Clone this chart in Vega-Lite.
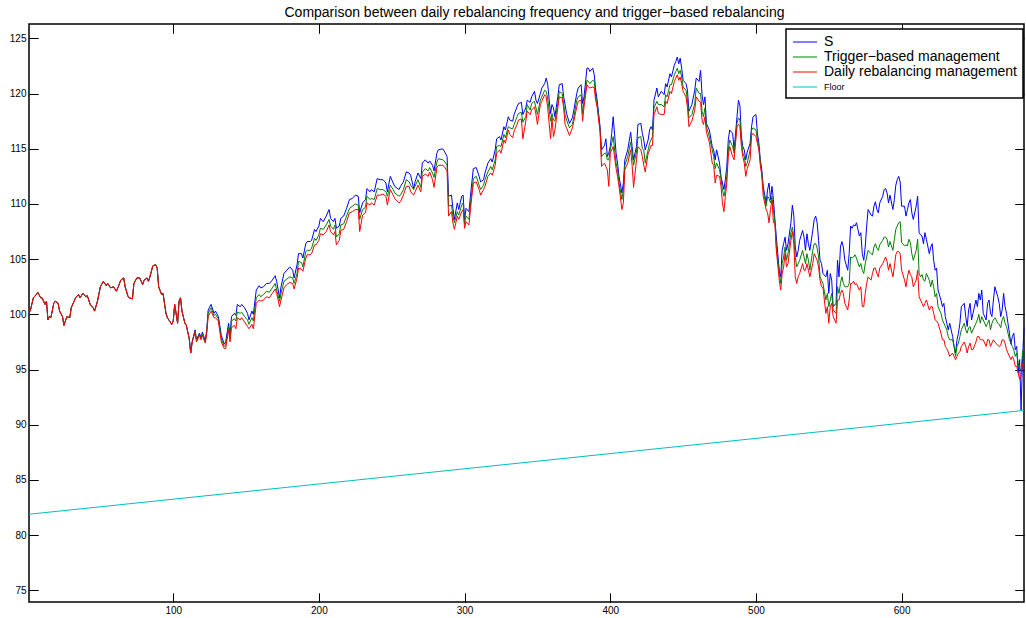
{
  "$schema": "https://vega.github.io/schema/vega-lite/v6.json",
  "width": 995,
  "height": 578,
  "autosize": {"type": "none"},
  "padding": {"left": 29, "top": 24, "right": 2, "bottom": 16},
  "background": "white",
  "title": {"text": "Comparison between daily rebalancing frequency and trigger−based rebalancing", "font": "Liberation Sans", "fontSize": 14, "fontWeight": "normal", "color": "black", "offset": 4, "dx": 8},
  "config": {
    "view": {"stroke": "black", "strokeWidth": 1.5},
    "axis": {"grid": false, "domain": false, "zindex": 2, "labelFont": "Liberation Sans", "labelFontSize": 10, "labelColor": "black", "title": null}
  },
  "datasets": {
    "m": [
      {"d":1,"S":100.1,"T":100.1,"D":100.1},{"d":2,"S":100.4,"T":100.4,"D":100.4},{"d":4,"S":101.5,"T":101.5,"D":101.5},{"d":6,"S":101.8,"T":101.8,"D":101.8},{"d":7,"S":102.0,"T":102.0,"D":102.0},{"d":9,"S":101.5,"T":101.5,"D":101.5},{"d":10,"S":101.5,"T":101.5,"D":101.5},{"d":12,"S":100.9,"T":100.9,"D":100.9},{"d":13,"S":101.2,"T":101.2,"D":101.2},{"d":14,"S":99.5,"T":99.5,"D":99.5},{"d":15,"S":99.8,"T":99.8,"D":99.8},{"d":16,"S":99.7,"T":99.7,"D":99.7},{"d":18,"S":101.0,"T":101.0,"D":101.0},{"d":19,"S":101.2,"T":101.2,"D":101.2},{"d":21,"S":101.0,"T":101.0,"D":101.0},{"d":22,"S":100.3,"T":100.3,"D":100.3},{"d":24,"S":99.8,"T":99.8,"D":99.8},{"d":25,"S":99.0,"T":99.0,"D":99.0},{"d":27,"S":99.8,"T":99.8,"D":99.8},{"d":29,"S":99.7,"T":99.7,"D":99.7},{"d":30,"S":100.6,"T":100.6,"D":100.6},{"d":32,"S":101.2,"T":101.2,"D":101.2},{"d":33,"S":101.5,"T":101.5,"D":101.5},{"d":35,"S":101.8,"T":101.8,"D":101.8},{"d":36,"S":101.5,"T":101.5,"D":101.5},{"d":38,"S":101.9,"T":101.9,"D":101.9},{"d":40,"S":101.6,"T":101.6,"D":101.6},{"d":41,"S":101.7,"T":101.7,"D":101.7},{"d":43,"S":100.9,"T":100.9,"D":100.9},{"d":45,"S":100.6,"T":100.6,"D":100.6},{"d":46,"S":100.3,"T":100.3,"D":100.3},{"d":48,"S":101.2,"T":101.2,"D":101.2},{"d":50,"S":102.5,"T":102.5,"D":102.5},{"d":52,"S":103.0,"T":103.0,"D":103.0},{"d":54,"S":102.6,"T":102.6,"D":102.6},{"d":55,"S":102.8,"T":102.8,"D":102.8},{"d":57,"S":102.4,"T":102.4,"D":102.4},{"d":59,"S":102.5,"T":102.5,"D":102.5},{"d":61,"S":102.1,"T":102.1,"D":102.1},{"d":62,"S":102.4,"T":102.4,"D":102.4},{"d":64,"S":103.1,"T":103.1,"D":103.1},{"d":66,"S":103.3,"T":103.3,"D":103.3},{"d":67,"S":102.5,"T":102.5,"D":102.5},{"d":69,"S":101.6,"T":101.6,"D":101.6},{"d":70,"S":101.5,"T":101.5,"D":101.5},{"d":72,"S":101.4,"T":101.4,"D":101.4},{"d":73,"S":102.8,"T":102.8,"D":102.8},{"d":75,"S":103.3,"T":103.3,"D":103.3},{"d":77,"S":103.3,"T":103.3,"D":103.3},{"d":79,"S":102.7,"T":102.7,"D":102.7},{"d":80,"S":103.1,"T":103.1,"D":103.1},{"d":82,"S":103.3,"T":103.3,"D":103.3},{"d":83,"S":103.0,"T":103.0,"D":103.0},{"d":84,"S":103.4,"T":103.4,"D":103.4},{"d":86,"S":104.4,"T":104.4,"D":104.4},{"d":88,"S":104.5,"T":104.5,"D":104.5},{"d":89,"S":104.2,"T":104.2,"D":104.2},{"d":90,"S":102.5,"T":102.5,"D":102.5},{"d":92,"S":101.8,"T":101.8,"D":101.8},{"d":93,"S":101.9,"T":101.9,"D":101.9},{"d":95,"S":100.1,"T":100.1,"D":100.1},{"d":96,"S":99.7,"T":99.7,"D":99.7},{"d":97,"S":99.5,"T":99.5,"D":99.5},{"d":99,"S":99.1,"T":99.1,"D":99.1},{"d":100,"S":99.4,"T":99.4,"D":99.4},{"d":101,"S":100.9,"T":100.9,"D":100.9},{"d":103,"S":99.2,"T":99.2,"D":99.2},{"d":104,"S":101.2,"T":101.2,"D":101.2},{"d":105,"S":101.5,"T":101.5,"D":101.5},{"d":106,"S":100.3,"T":100.3,"D":100.3},{"d":108,"S":99.2,"T":99.2,"D":99.2},{"d":109,"S":99.0,"T":99.0,"D":99.0},{"d":111,"S":97.8,"T":97.8,"D":97.8},{"d":112,"S":96.5,"T":96.5,"D":96.5},{"d":113,"S":97.5,"T":97.5,"D":97.5},
      {"d":115,"S":98.6,"T":98.5,"D":98.4},{"d":116,"S":97.7,"T":97.6,"D":97.5},{"d":118,"S":98.3,"T":98.2,"D":98.1},{"d":119,"S":97.9,"T":97.8,"D":97.7},{"d":120,"S":98.4,"T":98.3,"D":98.1},{"d":122,"S":97.6,"T":97.5,"D":97.4},{"d":123,"S":98.6,"T":98.4,"D":98.3},{"d":124,"S":100.4,"T":100.1,"D":99.8},{"d":126,"S":100.9,"T":100.6,"D":100.3},{"d":128,"S":100.1,"T":99.9,"D":99.7},{"d":129,"S":100.3,"T":100.0,"D":99.7},{"d":131,"S":99.8,"T":99.6,"D":99.4},{"d":133,"S":98.1,"T":97.8,"D":97.5},{"d":135,"S":97.3,"T":97.1,"D":96.9},{"d":136,"S":97.5,"T":97.2,"D":96.9},{"d":138,"S":99.2,"T":98.9,"D":98.6},{"d":139,"S":98.1,"T":97.8,"D":97.5},
      {"d":140,"S":99.8,"T":99.4,"D":98.8},{"d":142,"S":100.1,"T":99.6,"D":99.0},{"d":143,"S":99.9,"T":99.4,"D":98.7},{"d":144,"S":100.9,"T":100.2,"D":99.7},{"d":146,"S":100.7,"T":100.1,"D":99.5},{"d":147,"S":100.9,"T":100.2,"D":99.7},{"d":149,"S":100.6,"T":99.8,"D":99.3},{"d":151,"S":100.1,"T":99.5,"D":98.9},{"d":152,"S":99.5,"T":99.1,"D":98.7},{"d":154,"S":100.3,"T":99.7,"D":99.1},{"d":155,"S":100.0,"T":99.4,"D":98.7},{"d":157,"S":102.2,"T":101.5,"D":101.0},{"d":159,"S":102.6,"T":101.8,"D":101.3},{"d":160,"S":102.4,"T":101.6,"D":101.2},{"d":162,"S":102.5,"T":101.8,"D":101.3},{"d":164,"S":102.8,"T":102.1,"D":101.6},{"d":166,"S":102.8,"T":102.0,"D":101.5},{"d":168,"S":103.1,"T":102.4,"D":101.9},{"d":170,"S":103.5,"T":102.8,"D":102.3},{"d":171,"S":103.0,"T":102.2,"D":101.9},{"d":173,"S":101.5,"T":101.2,"D":100.7},{"d":174,"S":102.5,"T":101.9,"D":101.3},{"d":176,"S":103.7,"T":103.0,"D":102.4},{"d":178,"S":104.0,"T":103.2,"D":102.7},{"d":180,"S":104.3,"T":103.4,"D":102.9},{"d":182,"S":104.0,"T":103.3,"D":102.8},{"d":183,"S":103.3,"T":102.8,"D":102.3},{"d":185,"S":104.5,"T":103.7,"D":103.3},{"d":186,"S":105.5,"T":104.8,"D":104.2},{"d":188,"S":105.5,"T":104.7,"D":104.1},{"d":189,"S":105.1,"T":104.3,"D":103.9},{"d":191,"S":106.4,"T":105.7,"D":105.1},{"d":192,"S":106.6,"T":105.8,"D":105.4},{"d":194,"S":106.6,"T":105.8,"D":105.4},{"d":195,"S":106.7,"T":106.0,"D":105.5},{"d":197,"S":107.7,"T":106.9,"D":106.3},{"d":198,"S":107.5,"T":106.7,"D":106.3},{"d":200,"S":108.0,"T":107.2,"D":106.7},{"d":201,"S":108.7,"T":107.8,"D":107.3},{"d":203,"S":108.4,"T":107.7,"D":107.2},{"d":205,"S":108.9,"T":108.1,"D":107.5},{"d":207,"S":109.5,"T":108.6,"D":108.1},{"d":208,"S":108.7,"T":108.0,"D":107.5},{"d":210,"S":108.4,"T":107.7,"D":107.2},{"d":211,"S":108.7,"T":108.1,"D":107.5},{"d":212,"S":107.8,"T":107.0,"D":106.3},{"d":214,"S":108.0,"T":107.3,"D":106.7},{"d":215,"S":108.7,"T":108.1,"D":107.6},{"d":217,"S":108.9,"T":108.2,"D":107.7},{"d":219,"S":109.6,"T":108.9,"D":108.4},{"d":221,"S":110.4,"T":109.6,"D":109.2},{"d":223,"S":110.5,"T":109.8,"D":109.3},{"d":225,"S":110.8,"T":110.0,"D":109.5},{"d":227,"S":110.7,"T":109.9,"D":109.5},{"d":228,"S":109.2,"T":108.6,"D":107.5},{"d":230,"S":110.1,"T":109.5,"D":109.0},{"d":232,"S":110.4,"T":109.7,"D":109.2},{"d":233,"S":111.4,"T":110.7,"D":110.1},{"d":235,"S":111.1,"T":110.4,"D":109.9},{"d":236,"S":111.3,"T":110.5,"D":110.1},{"d":238,"S":111.1,"T":110.4,"D":109.9},{"d":240,"S":112.3,"T":111.4,"D":110.8},{"d":242,"S":112.2,"T":111.3,"D":110.8},{"d":244,"S":112.2,"T":111.3,"D":110.9},{"d":246,"S":111.9,"T":111.1,"D":110.7},{"d":247,"S":111.1,"T":110.7,"D":109.9},{"d":249,"S":112.5,"T":111.7,"D":111.3},{"d":251,"S":111.9,"T":111.3,"D":110.8},{"d":252,"S":111.6,"T":111.0,"D":110.5},{"d":255,"S":111.3,"T":110.7,"D":110.1},{"d":256,"S":111.6,"T":110.8,"D":110.2},{"d":258,"S":112.0,"T":111.3,"D":110.8},{"d":260,"S":112.9,"T":112.2,"D":111.6},{"d":262,"S":112.8,"T":112.0,"D":111.6},{"d":263,"S":112.6,"T":111.7,"D":111.1},{"d":265,"S":111.4,"T":111.3,"D":110.8},{"d":266,"S":112.0,"T":111.6,"D":111.1},{"d":268,"S":112.8,"T":112.2,"D":111.7},{"d":270,"S":112.3,"T":111.5,"D":111.1},{"d":271,"S":113.7,"T":112.9,"D":112.5},{"d":273,"S":114.0,"T":113.2,"D":112.7},{"d":275,"S":113.7,"T":113.0,"D":112.5},{"d":276,"S":113.9,"T":113.3,"D":112.9},{"d":278,"S":113.5,"T":112.8,"D":112.2},{"d":279,"S":113.0,"T":112.4,"D":111.5},{"d":281,"S":114.6,"T":113.8,"D":113.3},{"d":282,"S":114.9,"T":114.1,"D":113.5},{"d":285,"S":115.0,"T":114.0,"D":113.5},{"d":286,"S":114.8,"T":113.9,"D":113.4},{"d":288,"S":114.3,"T":113.5,"D":113.0},{"d":289,"S":110.7,"T":109.8,"D":108.9},{"d":291,"S":110.8,"T":109.9,"D":109.3},{"d":292,"S":109.6,"T":108.9,"D":108.3},{"d":293,"S":108.6,"T":108.3,"D":107.7},{"d":295,"S":110.1,"T":109.3,"D":108.9},{"d":296,"S":109.5,"T":109.0,"D":108.6},{"d":298,"S":110.7,"T":109.9,"D":109.3},{"d":299,"S":110.8,"T":110.1,"D":109.5},{"d":300,"S":108.6,"T":108.2,"D":107.8},{"d":301,"S":109.6,"T":108.9,"D":108.4},{"d":303,"S":109.3,"T":108.6,"D":108.1},{"d":304,"S":110.7,"T":109.9,"D":109.5},{"d":306,"S":113.2,"T":112.3,"D":111.9},{"d":308,"S":113.3,"T":112.5,"D":112.0},{"d":310,"S":112.5,"T":111.7,"D":111.3},{"d":311,"S":112.0,"T":111.3,"D":110.8},{"d":313,"S":112.2,"T":111.7,"D":111.3},{"d":314,"S":112.8,"T":112.2,"D":111.6},{"d":316,"S":113.7,"T":112.9,"D":112.5},{"d":318,"S":114.1,"T":113.4,"D":112.8},{"d":319,"S":113.8,"T":113.1,"D":112.6},{"d":321,"S":114.9,"T":114.0,"D":113.5},{"d":322,"S":115.9,"T":115.2,"D":114.6},{"d":324,"S":116.1,"T":115.3,"D":114.9},{"d":325,"S":115.8,"T":115.2,"D":114.6},{"d":327,"S":117.0,"T":116.3,"D":115.8},{"d":328,"S":116.7,"T":116.0,"D":115.5},{"d":330,"S":117.9,"T":117.0,"D":116.7},{"d":331,"S":117.6,"T":116.9,"D":116.3},{"d":333,"S":117.5,"T":116.8,"D":116.0},{"d":334,"S":118.1,"T":117.2,"D":116.6},{"d":336,"S":118.8,"T":117.9,"D":117.2},{"d":337,"S":119.1,"T":118.2,"D":117.6},{"d":339,"S":119.2,"T":118.3,"D":117.7},{"d":340,"S":118.1,"T":117.4,"D":115.9},{"d":342,"S":118.7,"T":117.9,"D":117.5},{"d":343,"S":119.4,"T":119.0,"D":118.4},{"d":345,"S":119.2,"T":118.5,"D":118.1},{"d":346,"S":119.7,"T":119.1,"D":118.5},{"d":348,"S":120.2,"T":119.3,"D":118.8},{"d":349,"S":119.4,"T":118.7,"D":118.1},{"d":350,"S":119.1,"T":118.1,"D":117.2},{"d":352,"S":120.0,"T":119.4,"D":119.0},{"d":353,"S":120.5,"T":119.7,"D":119.3},{"d":355,"S":120.9,"T":120.3,"D":119.9},{"d":356,"S":121.4,"T":120.2,"D":119.7},{"d":357,"S":120.9,"T":119.6,"D":118.8},{"d":359,"S":118.2,"T":117.5,"D":115.9},{"d":360,"S":119.0,"T":118.2,"D":117.8},{"d":361,"S":118.7,"T":117.6,"D":116.1},{"d":362,"S":117.9,"T":117.5,"D":116.7},{"d":364,"S":119.7,"T":119.1,"D":118.7},{"d":365,"S":120.8,"T":120.2,"D":119.7},{"d":367,"S":120.9,"T":120.0,"D":119.6},{"d":368,"S":119.7,"T":119.1,"D":118.7},{"d":369,"S":119.0,"T":118.1,"D":117.2},{"d":370,"S":118.2,"T":117.6,"D":116.9},{"d":372,"S":117.3,"T":116.9,"D":116.2},{"d":374,"S":117.8,"T":117.2,"D":116.9},{"d":375,"S":118.5,"T":117.9,"D":117.5},{"d":377,"S":120.0,"T":119.4,"D":118.8},{"d":378,"S":120.5,"T":119.7,"D":119.3},{"d":380,"S":120.8,"T":119.9,"D":119.4},{"d":381,"S":119.1,"T":118.2,"D":117.5},{"d":382,"S":119.7,"T":119.3,"D":118.8},{"d":384,"S":122.3,"T":121.2,"D":120.8},{"d":385,"S":122.3,"T":121.1,"D":120.6},{"d":386,"S":122.0,"T":120.9,"D":120.5},{"d":388,"S":122.3,"T":121.2,"D":120.6},{"d":389,"S":121.7,"T":121.1,"D":120.5},{"d":390,"S":120.3,"T":119.7,"D":119.4},{"d":391,"S":119.4,"T":119.0,"D":118.8},{"d":392,"S":118.2,"T":117.9,"D":117.6},{"d":393,"S":117.0,"T":116.7,"D":116.6},{"d":394,"S":114.9,"T":114.3,"D":113.4},{"d":396,"S":115.3,"T":114.6,"D":113.7},{"d":397,"S":115.9,"T":114.6,"D":113.4},{"d":398,"S":114.3,"T":114.0,"D":113.1},{"d":399,"S":114.6,"T":114.0,"D":111.6},{"d":400,"S":115.2,"T":114.9,"D":114.6},{"d":401,"S":116.4,"T":115.5,"D":114.9},{"d":402,"S":117.9,"T":116.1,"D":115.2},{"d":404,"S":114.6,"T":113.7,"D":113.2},{"d":405,"S":113.7,"T":113.1,"D":112.5},{"d":406,"S":112.5,"T":111.9,"D":111.6},{"d":408,"S":111.0,"T":110.4,"D":109.5},{"d":409,"S":111.9,"T":111.3,"D":110.1},{"d":410,"S":114.0,"T":113.5,"D":113.1},{"d":412,"S":114.9,"T":114.3,"D":113.7},{"d":414,"S":116.5,"T":115.6,"D":114.9},{"d":415,"S":115.2,"T":114.6,"D":113.5},{"d":416,"S":114.0,"T":113.5,"D":111.5},{"d":418,"S":115.2,"T":114.7,"D":114.0},{"d":419,"S":117.2,"T":116.0,"D":115.2},{"d":421,"S":117.3,"T":116.1,"D":114.9},{"d":422,"S":116.4,"T":115.0,"D":114.3},{"d":423,"S":115.8,"T":114.9,"D":113.5},{"d":424,"S":114.9,"T":113.7,"D":112.9},{"d":426,"S":115.8,"T":114.9,"D":114.6},{"d":427,"S":116.7,"T":115.5,"D":114.9},{"d":428,"S":117.0,"T":115.8,"D":115.3},{"d":429,"S":116.7,"T":116.1,"D":115.3},{"d":430,"S":119.4,"T":118.7,"D":118.1},{"d":432,"S":120.5,"T":119.3,"D":118.8},{"d":433,"S":119.7,"T":119.0,"D":118.2},{"d":435,"S":120.2,"T":119.0,"D":118.1},{"d":437,"S":119.9,"T":118.8,"D":118.1},{"d":438,"S":120.9,"T":119.9,"D":119.3},{"d":439,"S":120.6,"T":119.7,"D":119.1},{"d":441,"S":121.8,"T":120.8,"D":120.2},{"d":442,"S":121.5,"T":120.8,"D":120.0},{"d":444,"S":122.6,"T":121.7,"D":121.1},{"d":445,"S":122.9,"T":122.0,"D":121.4},{"d":446,"S":123.3,"T":122.3,"D":121.7},{"d":447,"S":122.7,"T":121.8,"D":121.2},{"d":448,"S":123.2,"T":122.1,"D":121.5},{"d":449,"S":122.3,"T":121.5,"D":120.9},{"d":450,"S":121.2,"T":120.6,"D":120.2},{"d":452,"S":120.9,"T":120.3,"D":119.7},{"d":453,"S":120.3,"T":119.4,"D":118.7},{"d":454,"S":118.4,"T":117.8,"D":117.0},{"d":456,"S":119.0,"T":118.1,"D":117.5},{"d":458,"S":120.3,"T":119.1,"D":118.5},{"d":459,"S":121.4,"T":120.5,"D":119.7},{"d":461,"S":121.1,"T":120.0,"D":119.3},{"d":462,"S":122.1,"T":120.0,"D":119.2},{"d":463,"S":119.9,"T":118.4,"D":117.6},{"d":464,"S":119.0,"T":117.9,"D":117.2},{"d":465,"S":119.7,"T":118.7,"D":117.9},{"d":466,"S":117.3,"T":117.0,"D":116.5},{"d":468,"S":116.7,"T":116.1,"D":115.6},{"d":470,"S":115.2,"T":114.9,"D":113.7},{"d":471,"S":114.9,"T":114.3,"D":113.5},{"d":472,"S":114.0,"T":113.2,"D":111.9},{"d":473,"S":114.9,"T":113.7,"D":112.6},{"d":475,"S":113.7,"T":113.1,"D":112.5},{"d":476,"S":112.5,"T":112.3,"D":111.6},{"d":477,"S":111.9,"T":111.3,"D":110.1},{"d":478,"S":111.3,"T":110.7,"D":109.3},{"d":479,"S":112.2,"T":111.3,"D":110.7},{"d":480,"S":113.4,"T":112.5,"D":111.9},{"d":481,"S":115.8,"T":114.9,"D":114.3},{"d":482,"S":116.7,"T":115.8,"D":115.2},{"d":484,"S":116.4,"T":115.2,"D":114.3},{"d":485,"S":114.9,"T":114.6,"D":114.0},{"d":487,"S":117.9,"T":117.3,"D":117.0},{"d":488,"S":119.4,"T":117.8,"D":117.2},{"d":489,"S":118.9,"T":117.6,"D":117.0},{"d":490,"S":116.1,"T":115.8,"D":115.2},{"d":491,"S":115.2,"T":114.6,"D":114.3},{"d":492,"S":114.9,"T":114.3,"D":113.7},{"d":493,"S":114.0,"T":113.4,"D":112.5},{"d":494,"S":114.7,"T":113.7,"D":113.2},{"d":496,"S":115.5,"T":114.9,"D":114.0},{"d":497,"S":117.0,"T":116.7,"D":116.2},{"d":498,"S":117.9,"T":116.9,"D":116.4},{"d":500,"S":118.1,"T":116.7,"D":116.1},{"d":501,"S":116.4,"T":115.8,"D":115.5},{"d":502,"S":115.5,"T":115.2,"D":114.9},{"d":503,"S":114.0,"T":113.8,"D":113.5},{"d":504,"S":113.1,"T":112.8,"D":112.6},{"d":505,"S":111.6,"T":111.3,"D":110.7},{"d":507,"S":110.1,"T":109.8,"D":109.5},{"d":508,"S":111.3,"T":110.7,"D":109.2},{"d":509,"S":111.9,"T":110.5,"D":108.3},{"d":510,"S":110.4,"T":110.1,"D":109.5},{"d":511,"S":111.6,"T":110.7,"D":110.4},{"d":512,"S":110.4,"T":109.5,"D":108.3},{"d":513,"S":108.6,"T":108.4,"D":108.3},{"d":514,"S":107.0,"T":106.1,"D":105.8},{"d":516,"S":104.0,"T":103.7,"D":103.1},{"d":517,"S":103.4,"T":102.8,"D":102.2},{"d":518,"S":105.8,"T":104.6,"D":103.7},{"d":519,"S":106.4,"T":105.2,"D":104.3},{"d":520,"S":107.0,"T":106.1,"D":105.5},{"d":521,"S":105.8,"T":104.9,"D":104.3},{"d":522,"S":106.4,"T":105.5,"D":104.6},{"d":524,"S":108.3,"T":107.4,"D":106.7},{"d":525,"S":109.9,"T":107.9,"D":107.5},{"d":526,"S":108.9,"T":107.0,"D":106.4},{"d":527,"S":106.1,"T":105.2,"D":103.4},{"d":528,"S":105.2,"T":104.3,"D":102.8},{"d":529,"S":105.8,"T":104.6,"D":103.4},{"d":530,"S":106.7,"T":104.9,"D":103.7},{"d":532,"S":107.6,"T":105.8,"D":104.6},{"d":533,"S":107.0,"T":105.2,"D":104.0},{"d":534,"S":105.8,"T":104.6,"D":104.0},{"d":535,"S":107.3,"T":105.5,"D":104.6},{"d":536,"S":106.4,"T":104.9,"D":104.0},{"d":537,"S":105.8,"T":104.0,"D":103.4},{"d":539,"S":107.6,"T":105.8,"D":104.6},{"d":540,"S":108.6,"T":106.4,"D":105.5},{"d":541,"S":108.9,"T":106.4,"D":105.2},{"d":542,"S":108.3,"T":106.0,"D":104.9},{"d":543,"S":106.7,"T":105.2,"D":104.3},{"d":544,"S":104.9,"T":103.4,"D":103.1},{"d":545,"S":104.6,"T":103.1,"D":102.5},{"d":546,"S":103.7,"T":102.8,"D":102.4},
      {"d":548,"S":103.4,"T":101.3,"D":100.1},{"d":549,"S":104.0,"T":101.9,"D":100.7},{"d":550,"S":101.9,"T":100.7,"D":99.2},{"d":551,"S":103.7,"T":101.3,"D":100.7},{"d":552,"S":103.1,"T":101.9,"D":101.0},{"d":553,"S":100.7,"T":100.4,"D":99.8},{"d":555,"S":101.0,"T":100.1,"D":99.2},{"d":556,"S":104.9,"T":102.5,"D":101.3},{"d":557,"S":103.4,"T":101.9,"D":101.3},{"d":558,"S":106.1,"T":102.8,"D":101.9},{"d":559,"S":106.6,"T":103.4,"D":102.2},{"d":560,"S":106.1,"T":102.8,"D":101.9},{"d":561,"S":104.9,"T":102.5,"D":101.0},{"d":563,"S":104.0,"T":102.5,"D":100.4},{"d":564,"S":105.5,"T":102.8,"D":101.3},{"d":565,"S":108.0,"T":105.2,"D":102.8},{"d":566,"S":107.8,"T":105.1,"D":102.8},{"d":567,"S":108.1,"T":105.2,"D":103.0},{"d":568,"S":108.0,"T":105.4,"D":102.7},{"d":569,"S":108.3,"T":105.1,"D":102.8},{"d":571,"S":107.1,"T":104.3,"D":102.2},{"d":572,"S":107.4,"T":104.6,"D":102.5},{"d":573,"S":105.5,"T":104.0,"D":100.7},{"d":574,"S":104.9,"T":103.7,"D":100.7},{"d":575,"S":106.1,"T":104.6,"D":101.9},{"d":576,"S":108.0,"T":105.2,"D":102.8},{"d":577,"S":109.5,"T":105.8,"D":103.4},{"d":579,"S":109.0,"T":105.5,"D":103.1},{"d":580,"S":108.9,"T":105.4,"D":103.7},{"d":581,"S":109.8,"T":106.1,"D":104.2},{"d":582,"S":110.2,"T":106.4,"D":104.2},{"d":583,"S":109.5,"T":106.0,"D":103.7},{"d":584,"S":109.2,"T":105.8,"D":103.4},{"d":585,"S":110.1,"T":106.3,"D":104.2},{"d":587,"S":110.7,"T":106.7,"D":104.6},{"d":588,"S":111.3,"T":107.0,"D":104.9},{"d":589,"S":111.4,"T":107.0,"D":105.2},{"d":590,"S":111.0,"T":106.8,"D":104.8},{"d":591,"S":110.1,"T":106.1,"D":104.0},{"d":592,"S":110.8,"T":106.6,"D":104.6},{"d":594,"S":109.5,"T":105.8,"D":103.4},{"d":595,"S":110.4,"T":106.8,"D":104.3},{"d":596,"S":111.7,"T":107.7,"D":105.4},{"d":597,"S":112.2,"T":108.0,"D":105.7},{"d":598,"S":112.5,"T":108.3,"D":105.7},{"d":599,"S":112.0,"T":108.4,"D":105.5},{"d":600,"S":109.8,"T":106.5,"D":104.0},{"d":602,"S":109.8,"T":106.2,"D":103.1},{"d":603,"S":108.9,"T":106.3,"D":102.5},{"d":604,"S":109.5,"T":106.2,"D":103.4},{"d":605,"S":110.1,"T":106.8,"D":104.0},{"d":606,"S":110.4,"T":106.5,"D":103.6},{"d":607,"S":109.2,"T":105.5,"D":103.4},{"d":608,"S":108.6,"T":104.9,"D":102.5},{"d":610,"S":109.8,"T":105.8,"D":103.1},{"d":611,"S":110.7,"T":106.8,"D":104.0},{"d":612,"S":107.4,"T":103.7,"D":101.6},{"d":613,"S":107.2,"T":103.4,"D":101.3},{"d":614,"S":107.1,"T":103.6,"D":101.0},{"d":615,"S":106.4,"T":103.1,"D":100.7},{"d":616,"S":107.4,"T":103.0,"D":101.0},{"d":617,"S":106.8,"T":103.7,"D":101.3},{"d":619,"S":105.5,"T":103.1,"D":100.4},{"d":620,"S":106.1,"T":102.5,"D":100.7},{"d":621,"S":106.4,"T":103.1,"D":100.7},{"d":622,"S":104.9,"T":102.5,"D":100.1},{"d":623,"S":104.0,"T":101.6,"D":99.5},{"d":624,"S":104.2,"T":101.9,"D":99.4},{"d":625,"S":102.2,"T":100.7,"D":99.2},{"d":627,"S":101.3,"T":100.1,"D":98.3},{"d":628,"S":100.7,"T":99.5,"D":97.7},{"d":629,"S":101.0,"T":99.2,"D":97.7},{"d":630,"S":99.8,"T":98.9,"D":97.1},{"d":631,"S":99.2,"T":98.6,"D":96.9},{"d":632,"S":98.6,"T":98.0,"D":96.6},{"d":633,"S":99.2,"T":97.7,"D":96.2},{"d":635,"S":98.0,"T":97.7,"D":96.5},{"d":636,"S":97.1,"T":97.1,"D":96.2},{"d":637,"S":96.5,"T":96.2,"D":95.9},{"d":638,"S":97.7,"T":97.1,"D":96.2},{"d":639,"S":98.3,"T":97.4,"D":96.5},{"d":640,"S":99.2,"T":98.0,"D":96.6},{"d":641,"S":100.7,"T":98.6,"D":97.1},{"d":643,"S":101.0,"T":99.2,"D":97.5},{"d":644,"S":99.8,"T":98.6,"D":97.1},{"d":645,"S":98.9,"T":98.3,"D":96.5},{"d":646,"S":100.4,"T":98.8,"D":97.1},{"d":647,"S":101.0,"T":98.9,"D":97.4},{"d":648,"S":99.5,"T":98.3,"D":96.8},{"d":649,"S":100.1,"T":98.6,"D":96.8},{"d":651,"S":101.3,"T":99.2,"D":97.5},{"d":652,"S":100.7,"T":99.5,"D":98.0},{"d":653,"S":101.9,"T":100.0,"D":98.0},{"d":654,"S":101.3,"T":99.2,"D":97.7},{"d":655,"S":102.2,"T":99.8,"D":97.7},{"d":656,"S":100.1,"T":99.5,"D":97.7},{"d":658,"S":99.5,"T":98.9,"D":97.1},{"d":659,"S":101.0,"T":99.2,"D":97.7},{"d":660,"S":101.3,"T":99.5,"D":97.7},{"d":661,"S":100.1,"T":98.6,"D":97.1},{"d":662,"S":99.8,"T":99.2,"D":97.4},{"d":663,"S":101.3,"T":99.5,"D":97.7},{"d":664,"S":102.5,"T":99.7,"D":97.5},{"d":666,"S":101.6,"T":99.2,"D":97.2},{"d":667,"S":101.0,"T":99.1,"D":97.1},{"d":668,"S":99.8,"T":98.8,"D":97.2},{"d":669,"S":100.4,"T":99.5,"D":97.7},{"d":670,"S":101.9,"T":99.8,"D":97.7},{"d":671,"S":100.7,"T":99.2,"D":97.4},{"d":672,"S":100.1,"T":98.9,"D":96.8},{"d":674,"S":98.3,"T":97.7,"D":96.2},{"d":675,"S":97.3,"T":97.4,"D":95.9},{"d":676,"S":98.0,"T":97.1,"D":96.2},{"d":677,"S":98.3,"T":96.8,"D":95.9},{"d":678,"S":96.8,"T":96.2,"D":95.3},{"d":679,"S":97.1,"T":96.5,"D":95.3},{"d":680,"S":94.7,"T":95.6,"D":94.7},{"d":681,"S":95.9,"T":95.0,"D":94.1},{"d":682,"S":91.3,"T":95.0,"D":94.4},{"d":683,"S":96.0,"T":96.5,"D":95.6},{"d":684,"S":98.8,"T":97.1,"D":95.3}
    ],
    "f": [{"d":1,"F":81.9},{"d":684,"F":91.3}]
  },
  "layer": [
    {
      "data": {"name": "m"},
      "mark": {"type": "line", "strokeWidth": 1},
      "encoding": {
        "x": {"field": "d", "type": "quantitative", "scale": {"domain": [1, 684], "nice": false, "zero": false}, "axis": {"orient": "bottom", "values": [100, 200, 300, 400, 500, 600], "ticks": true, "tickSize": -9, "tickColor": "#000000", "tickWidth": 1, "tickOpacity": 1, "labelPadding": 12, "grid": true, "gridColor": "#000000", "gridOpacity": 1, "gridWidth": 1, "gridDash": [9, 560]}},
        "y": {"field": "S", "type": "quantitative", "scale": {"domain": [73.95, 126.3], "nice": false, "zero": false}, "axis": {"orient": "left", "values": [75, 80, 85, 90, 95, 100, 105, 110, 115, 120, 125], "ticks": true, "tickSize": -9, "tickColor": "#000000", "tickWidth": 1, "tickOpacity": 1, "labelPadding": 12, "grid": true, "gridColor": "#000000", "gridOpacity": 1, "gridWidth": 1, "gridDash": [9, 977]}},
        "color": {"datum": "S", "type": "nominal", "scale": {"domain": ["S", "T", "D", "Floor"], "range": ["#0000ff", "#008000", "#ff0000", "#00bfbf"]},
          "legend": {"orient": "none", "legendX": 757, "legendY": 5, "title": null, "fillColor": "white", "strokeColor": "black", "padding": 6, "symbolType": "M-1.2,0H3.6", "symbolSize": 100, "symbolStrokeWidth": 1, "labelFont": "Liberation Sans", "labelFontSize": 14, "labelColor": "black", "labelOffset": 18, "labelLimit": 300, "rowPadding": 1,
            "labelExpr": "datum.label == 'T' ? 'Trigger−based management' : datum.label == 'D' ? 'Daily rebalancing management' : datum.label",
            "encode": {"labels": {"update": {"fontSize": {"signal": "datum.value === 'Floor' ? 9 : 14"}}}, "legend": {"update": {"strokeWidth": {"value": 1.5}}}}}}
      }
    },
    {
      "data": {"name": "m"},
      "mark": {"type": "line", "strokeWidth": 1},
      "encoding": {
        "x": {"field": "d", "type": "quantitative", "axis": {"orient": "top", "values": [100, 200, 300, 400, 500, 600], "labels": false, "ticks": true, "tickSize": -9, "tickColor": "#000000", "tickWidth": 1, "tickOpacity": 1}},
        "y": {"field": "T", "type": "quantitative", "axis": {"orient": "right", "values": [75, 80, 85, 90, 95, 100, 105, 110, 115, 120, 125], "labels": false, "ticks": true, "tickSize": -9, "tickColor": "#000000", "tickWidth": 1, "tickOpacity": 1}},
        "color": {"datum": "T", "type": "nominal"}
      }
    },
    {
      "data": {"name": "m"},
      "mark": {"type": "line", "strokeWidth": 1},
      "encoding": {
        "x": {"field": "d", "type": "quantitative", "axis": null},
        "y": {"field": "D", "type": "quantitative", "axis": null},
        "color": {"datum": "D", "type": "nominal"}
      }
    },
    {
      "data": {"name": "f"},
      "mark": {"type": "line", "strokeWidth": 1},
      "encoding": {
        "x": {"field": "d", "type": "quantitative", "axis": null},
        "y": {"field": "F", "type": "quantitative", "axis": null},
        "color": {"datum": "Floor", "type": "nominal"}
      }
    }
  ],
  "resolve": {"axis": {"x": "independent", "y": "independent"}}
}
